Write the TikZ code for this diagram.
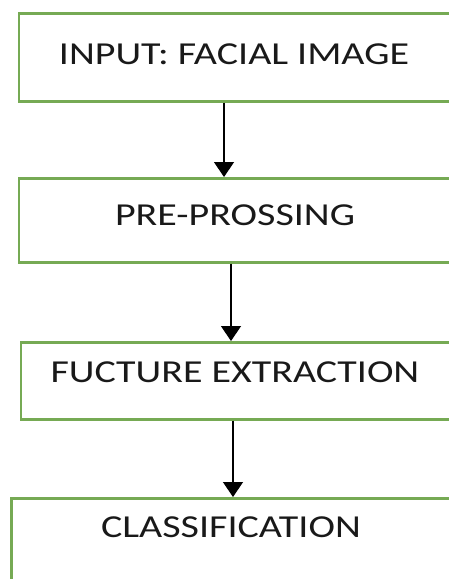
\documentclass[tikz,border=0pt]{standalone}
\usepackage{fontspec}
\newfontfamily\boxfont[FakeStretch=1.25]{Carlito}
\usetikzlibrary{arrows.meta,calc}
\definecolor{boxgreen}{RGB}{118,170,84}
\begin{document}
\begin{tikzpicture}[x=1pt,y=-1pt,
  stepbox/.style={draw=boxgreen,line width=2.6pt,rectangle,inner sep=0pt,anchor=north west,fill=white},
  label/.style={anchor=base,inner sep=0pt,font=\boxfont\fontsize{32}{36}\selectfont,text=black!90},
  arr/.style={line width=1.4pt,black,-{Triangle[width=20pt,length=15pt]}}]
\useasboundingbox (0,0) rectangle (449,579);
\fill[white] (0,0) rectangle (449,579);
\clip (0,0) rectangle (449,579);
% boxes
\node[stepbox,minimum width=440pt,minimum height=88pt] (b1) at (17.5,12) {};
\node[stepbox,minimum width=440pt,minimum height=84pt] (b2) at (17.5,177) {};
\node[stepbox,minimum width=440pt,minimum height=77pt] (b3) at (19.5,341) {};
\node[stepbox,minimum width=450pt,minimum height=100pt] (b4) at (10,497) {};
% texts
\node[label] (t1) at (234,64) {INPUT: FACIAL IMAGE};
\node[label] (t2) at (235,225) {PRE-PROSSING};
\node[label] (t3) at (235,382) {FUCTURE EXTRACTION};
\node[label] (t4) at (231,537) {CLASSIFICATION};
% arrows
\coordinate (a1) at (224,0);
\coordinate (a2) at (231,0);
\coordinate (a3) at (233,0);
\draw[arr] (a1 |- b1.south) -- (a1 |- b2.north);
\draw[arr] (a2 |- b2.south) -- (a2 |- b3.north);
\draw[arr] (a3 |- b3.south) -- (a3 |- b4.north);
\end{tikzpicture}
\end{document}
